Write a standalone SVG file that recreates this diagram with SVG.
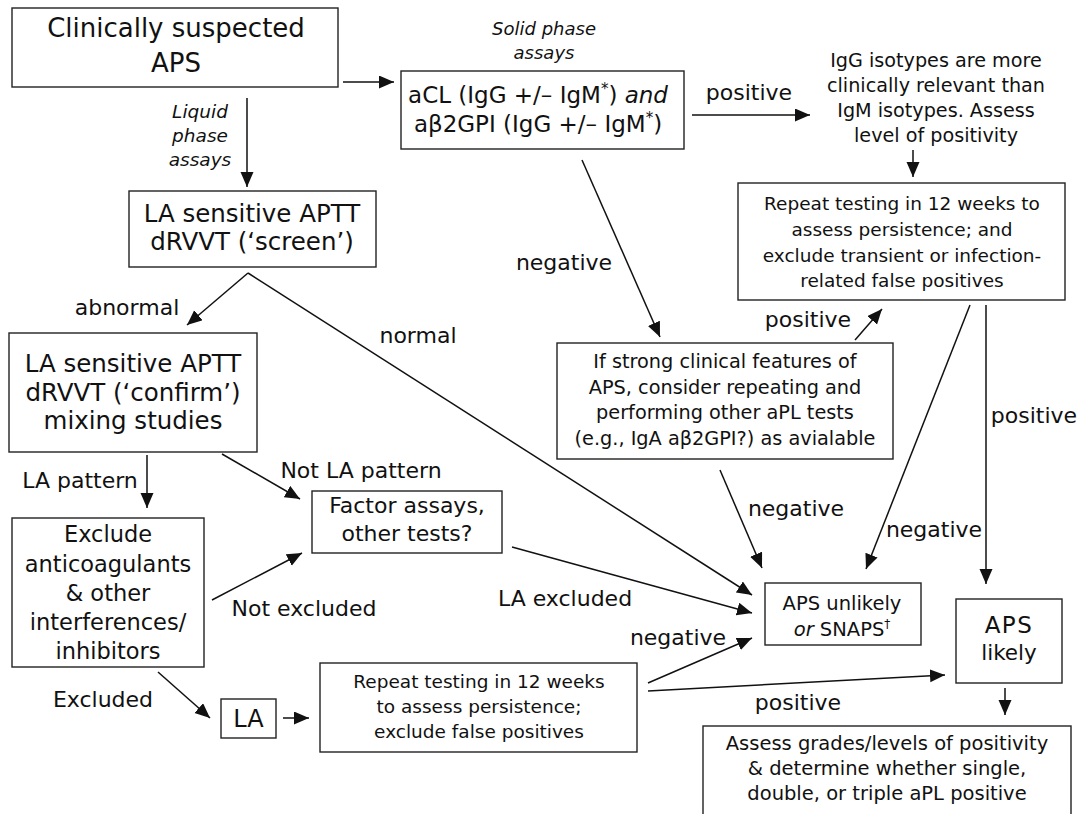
<svg xmlns="http://www.w3.org/2000/svg" width="1083" height="814" viewBox="0 0 1083 814">
<style>
text{font-family:"DejaVu Sans","Liberation Sans",sans-serif;fill:#111;text-anchor:middle}
.box{fill:#fff;stroke:#222;stroke-width:1.4}
.c{stroke:#111;stroke-width:1.5;fill:none;marker-end:url(#ah)}
.lbl{font-size:22px}
.it{font-style:italic}
</style>
<defs>
<marker id="ah" markerUnits="userSpaceOnUse" markerWidth="16" markerHeight="14" refX="15" refY="6.5" orient="auto">
<path d="M0,0 L15,6.5 L0,13 z" fill="#111"/>
</marker>
</defs>
<rect width="1083" height="814" fill="#fff"/>

<g id="connectors">
<line class="c" x1="343" y1="82" x2="394" y2="82"/>
<line class="c" x1="247" y1="98" x2="247" y2="187"/>
<line class="c" x1="692" y1="115" x2="810" y2="115"/>
<line class="c" x1="913" y1="150" x2="913" y2="177"/>
<line class="c" x1="582" y1="160" x2="660" y2="337"/>
<line class="c" x1="855" y1="340" x2="882" y2="309"/>
<line class="c" x1="970" y1="305" x2="866" y2="569"/>
<line class="c" x1="986" y1="305" x2="986" y2="584"/>
<line class="c" x1="720" y1="470" x2="762" y2="568"/>
<line class="c" x1="248" y1="273" x2="187" y2="325"/>
<line class="c" x1="248" y1="273" x2="752" y2="595"/>
<line class="c" x1="147" y1="455" x2="147" y2="508"/>
<line class="c" x1="222" y1="454" x2="300" y2="499"/>
<line class="c" x1="212" y1="600" x2="302" y2="553"/>
<line class="c" x1="512" y1="547" x2="752" y2="613"/>
<line class="c" x1="158" y1="672" x2="210" y2="718"/>
<line class="c" x1="283" y1="718" x2="309" y2="718"/>
<line class="c" x1="648" y1="683" x2="752" y2="638"/>
<line class="c" x1="648" y1="691" x2="945" y2="675"/>
<line class="c" x1="1005" y1="688" x2="1005" y2="715"/>
</g>

<g id="labels">
<text class="it" font-size="18.5" x="200" y="118">Liquid</text>
<text class="it" font-size="18.5" x="200" y="142">phase</text>
<text class="it" font-size="18.5" x="200" y="166">assays</text>
<text class="it" font-size="18" x="544" y="35">Solid phase</text>
<text class="it" font-size="18" x="544" y="59">assays</text>
<text class="lbl" x="749" y="100">positive</text>
<text class="lbl" x="564" y="270" font-size="21">negative</text>
<text class="lbl" x="808" y="327">positive</text>
<text class="lbl" x="1034" y="423">positive</text>
<text class="lbl" x="934" y="537" font-size="21">negative</text>
<text class="lbl" x="796" y="516" font-size="21">negative</text>
<text class="lbl" x="127" y="315">abnormal</text>
<text class="lbl" x="418" y="343">normal</text>
<text class="lbl" x="80" y="488">LA pattern</text>
<text class="lbl" x="361" y="478">Not LA pattern</text>
<text class="lbl" x="304" y="616">Not excluded</text>
<text class="lbl" x="565" y="606">LA excluded</text>
<text class="lbl" x="103" y="707">Excluded</text>
<text class="lbl" x="678" y="645" font-size="21">negative</text>
<text class="lbl" x="798" y="710">positive</text>
</g>

<g id="n-suspected">
<rect class="box" x="12" y="8" width="326" height="79"/>
<text font-size="26" x="176" y="37">Clinically suspected</text>
<text font-size="26" x="176" y="72">APS</text>
</g>

<g id="n-screen">
<rect class="box" x="129" y="191" width="247" height="76"/>
<text font-size="24.5" x="252" y="222">LA sensitive APTT</text>
<text font-size="24.5" x="252" y="250">dRVVT (‘screen’)</text>
</g>

<g id="n-solid">
<rect class="box" x="401" y="71" width="283" height="78"/>
<text font-size="23" x="538" y="103">aCL (IgG +/– IgM<tspan dy="-9" font-size="15">*</tspan><tspan dy="9">) </tspan><tspan font-style="italic">and</tspan></text>
<text font-size="23" x="538" y="132">aβ2GPI (IgG +/– IgM<tspan dy="-9" font-size="15">*</tspan><tspan dy="9">)</tspan></text>
</g>

<g id="n-isotypes">
<text font-size="19.2" x="936" y="67">IgG isotypes are more</text>
<text font-size="19.2" x="936" y="92">clinically relevant than</text>
<text font-size="19.2" x="936" y="117">IgM isotypes. Assess</text>
<text font-size="19.2" x="936" y="142">level of positivity</text>
</g>

<g id="n-repeat-top">
<rect class="box" x="738" y="183" width="327" height="117"/>
<text font-size="18.5" x="902" y="210">Repeat testing in 12 weeks to</text>
<text font-size="18.5" x="902" y="236">assess persistence; and</text>
<text font-size="18.5" x="902" y="262">exclude transient or infection-</text>
<text font-size="18.5" x="902" y="287">related false positives</text>
</g>

<g id="n-strong">
<rect class="box" x="557" y="343" width="336" height="116"/>
<text font-size="19.3" x="725" y="368">If strong clinical features of</text>
<text font-size="19.3" x="725" y="394">APS, consider repeating and</text>
<text font-size="19.3" x="725" y="419">performing other aPL tests</text>
<text font-size="19.3" x="725" y="445">(e.g., IgA aβ2GPI?) as avialable</text>
</g>

<g id="n-confirm">
<rect class="box" x="9" y="333" width="248" height="119"/>
<text font-size="24.5" x="133" y="372">LA sensitive APTT</text>
<text font-size="24.5" x="133" y="401">dRVVT (‘confirm’)</text>
<text font-size="24.5" x="133" y="429">mixing studies</text>
</g>

<g id="n-factor">
<rect class="box" x="312" y="491" width="190" height="62"/>
<text font-size="22" x="407" y="513">Factor assays,</text>
<text font-size="22" x="407" y="541">other tests?</text>
</g>

<g id="n-exclude">
<rect class="box" x="12" y="518" width="192" height="149"/>
<text font-size="22.5" x="108" y="542">Exclude</text>
<text font-size="22.5" x="108" y="572">anticoagulants</text>
<text font-size="22.5" x="108" y="601">&amp; other</text>
<text font-size="22.5" x="108" y="630">interferences/</text>
<text font-size="22.5" x="108" y="659">inhibitors</text>
</g>

<g id="n-la">
<rect class="box" x="221" y="699" width="55" height="39"/>
<text font-size="24" x="248.5" y="727">LA</text>
</g>

<g id="n-repeat-la">
<rect class="box" x="320" y="663" width="317" height="89"/>
<text font-size="18.5" x="479" y="688">Repeat testing in 12 weeks</text>
<text font-size="18.5" x="479" y="713">to assess persistence;</text>
<text font-size="18.5" x="479" y="738">exclude false positives</text>
</g>

<g id="n-unlikely">
<rect class="box" x="765" y="583" width="156" height="62"/>
<text font-size="19.5" x="842" y="610">APS unlikely</text>
<text font-size="19.5" x="842" y="636"><tspan font-style="italic">or</tspan> SNAPS<tspan dy="-8" font-size="12">†</tspan></text>
</g>

<g id="n-likely">
<rect class="box" x="956" y="599" width="106" height="84"/>
<text font-size="23" x="1009" y="633" letter-spacing="1.5">APS</text>
<text font-size="21.5" x="1009" y="660">likely</text>
</g>

<g id="n-assess">
<rect class="box" x="703" y="726" width="368" height="110"/>
<text font-size="19.5" x="887" y="750">Assess grades/levels of positivity</text>
<text font-size="19.5" x="887" y="775">&amp; determine whether single,</text>
<text font-size="19.5" x="887" y="800">double, or triple aPL positive</text>
</g>
</svg>
